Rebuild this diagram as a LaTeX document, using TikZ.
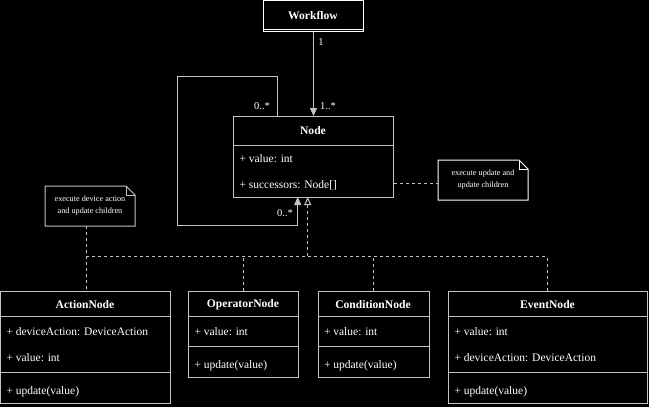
\documentclass[tikz,border=0pt]{standalone}
\usepackage{fontspec}
\setmainfont{Liberation Serif}
\usetikzlibrary{arrows.meta,shapes.misc}
\begin{document}
\begin{tikzpicture}[x=1pt,y=-1pt,
    line width=1pt,
    every node/.style={text=white,inner sep=0pt},
    box/.style={draw=linegray,fill=black,anchor=north west},
    title/.style={font=\bfseries\fontsize{11.6}{13}\selectfont},
    attr/.style={anchor=west,font=\fontsize{11.5}{13}\selectfont},
    small/.style={font=\fontsize{8.2}{12}\selectfont,align=center},
    mult/.style={font=\fontsize{10.5}{12}\selectfont},
    link/.style={draw=linegray,dash pattern=on 3pt off 3pt}]
    \definecolor{linegray}{HTML}{C4C4C4}
    \fill[black] (0,0) rectangle (649,407);
    \useasboundingbox (0,0) rectangle (649,407);
    % workflow
    \node[box,draw=white,minimum width=100pt,minimum height=31pt] (workflow) at (263,0) {};
    \draw[white] (263,29) -- (363,29);
    \node[title] (workflowT) at (313,16) {Workflow};
    % node
    \node[box,minimum width=160pt,minimum height=81pt] (node) at (233,116) {};
    \draw[linegray] (233,145) -- (393,145);
    \node[title] (nodeT) at (313,131) {Node};
    \node[attr] (nodeA) at (239,158.5) {+ value: int};
    \node[attr] (nodeB) at (239,185.5) {+ successors: Node[]};
    % subclasses
    \node[box,minimum width=170pt,minimum height=112pt] (action) at (0,291) {};
    \draw[linegray] (0,316.7) -- (170,316.7) (0,372.7) -- (170,372.7);
    \node[title] (actionT) at (85,305) {ActionNode};
    \node[attr] (actionA) at (6,331.5) {+ deviceAction: DeviceAction};
    \node[attr] (actionB) at (6,357.5) {+ value: int};
    \node[attr] (actionC) at (6,391.5) {+ update(value)};
    \node[box,minimum width=110pt,minimum height=86pt] (operator) at (188,291) {};
    \draw[linegray] (188,316.7) -- (298,316.7) (188,346.7) -- (298,346.7);
    \node[title] (operatorT) at (243,305) {OperatorNode};
    \node[attr] (operatorA) at (194,331.5) {+ value: int};
    \node[attr] (operatorB) at (194,365.5) {+ update(value)};
    \node[box,minimum width=111pt,minimum height=86pt] (condition) at (317.5,291) {};
    \draw[linegray] (317.5,316.7) -- (428.5,316.7) (317.5,346.7) -- (428.5,346.7);
    \node[title] (conditionT) at (373,305) {ConditionNode};
    \node[attr] (conditionA) at (323.5,331.5) {+ value: int};
    \node[attr] (conditionB) at (323.5,365.5) {+ update(value)};
    \node[box,minimum width=199pt,minimum height=112pt] (event) at (448,291) {};
    \draw[linegray] (448,316.7) -- (647,316.7) (448,372.7) -- (647,372.7);
    \node[title] (eventT) at (547.5,305) {EventNode};
    \node[attr] (eventA) at (454,331.5) {+ value: int};
    \node[attr] (eventB) at (454,357.5) {+ deviceAction: DeviceAction};
    \node[attr] (eventC) at (454,391.5) {+ update(value)};
    % notes
    \draw[linegray,fill=black] (45,186) -- (126,186) -- (135,195) -- (135,226) -- (45,226) -- cycle;
    \draw[linegray] (126,186) -- (126,195) -- (135,195);
    \node[small] (noteL) at (90,206) {execute device action\\and update children};
    \draw[white,fill=black] (438,160) -- (519,160) -- (528,169) -- (528,200) -- (438,200) -- cycle;
    \draw[white] (519,160) -- (519,169) -- (528,169);
    \node[small] (noteR) at (483,180) {execute update and\\update children};
    \coordinate (noteLb) at (86,226);
    \coordinate (noteRw) at (438,183.3);
    % links
    \coordinate (bus) at (307.7,256);
    \draw[link] (noteLb) -- (noteLb |- action.north);
    \draw[link] (node.east |- noteRw) -- (noteRw);
    \draw[link] (86,256) -- (547.7,256);
    \draw[link] (operator.north) -- (operator.north |- bus);
    \draw[link] (condition.north) -- (condition.north |- bus);
    \draw[link] (547.7,291) -- (547.7,256);
    \draw[link,-{Triangle[open,width=7pt,length=8pt,fill=black]}] (bus) -- (307.7,197);
    % associations
    \draw[linegray,-{Triangle[width=7pt,length=8pt]}] (workflow.south) -- (node.north -| workflow.south);
    \node[mult] (m1) at (321,42) {1};
    \node[mult] (m2) at (328,106) {1..*};
    \draw[linegray,-{Triangle[width=7pt,length=8pt]}] (277.7,116) -- (277.7,76) -- (177.3,76) -- (177.3,225.7) -- (297.7,225.7) -- (297.7,197);
    \node[mult] (m3) at (262,106) {0..*};
    \node[mult] (m4) at (285,213) {0..*};
\end{tikzpicture}
\end{document}
